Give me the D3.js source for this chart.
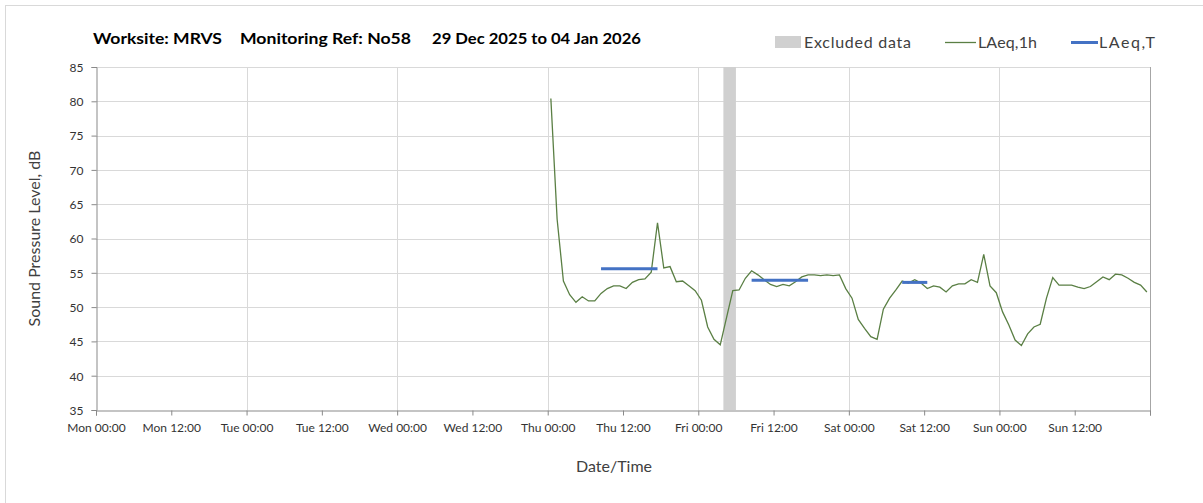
<!DOCTYPE html>
<meta charset="utf-8">
<script src="https://d3js.org/d3.v7.min.js"></script>
<style>
  body { margin: 0; background: #fff; }
  text { font-family: Lato, "Open Sans", sans-serif; }
</style>
<div id="chart"></div>
<script>
// x tick labels, one every 12 hours from Mon 00:00
var tickLabels = ["Mon 00:00", "Mon 12:00", "Tue 00:00", "Tue 12:00", "Wed 00:00", "Wed 12:00",
  "Thu 00:00", "Thu 12:00", "Fri 00:00", "Fri 12:00", "Sat 00:00", "Sat 12:00", "Sun 00:00", "Sun 12:00"];
var yTicks = [35, 40, 45, 50, 55, 60, 65, 70, 75, 80, 85];

// LAeq,1h hourly values, first one is Thu 00:00-01:00 (hour 72 from Mon 00:00)
var firstHour = 72;
var laeq1h = [80.4, 62.8, 53.8, 51.8, 50.7, 51.5, 50.9, 50.9, 52.0, 52.7, 53.1, 53.1,
  52.7, 53.6, 54.0, 54.1, 55.1, 62.3, 55.7, 55.9, 53.7, 53.8, 53.1, 52.4,
  51.0, 47.1, 45.3, 44.5, null, 52.4, 52.5, 54.2, 55.3, 54.7, 54.0, 53.3,
  53.0, 53.3, 53.1, 53.7, 54.4, 54.7, 54.7, 54.6, 54.7, 54.6, 54.7, 52.7,
  51.3, 48.2, 46.9, 45.7, 45.3, 49.7, 51.3, 52.5, 53.8, 53.5, 54.0, 53.5,
  52.7, 53.1, 52.9, 52.2, 53.1, 53.4, 53.4, 54.0, 53.6, 57.7, 53.1, 52.1,
  49.3, 47.4, 45.2, 44.4, 46.1, 47.1, 47.5, 51.3, 54.3, 53.2, 53.2, 53.2,
  52.9, 52.7, 53.0, 53.7, 54.4, 54.0, 54.8, 54.7, 54.2, 53.6, 53.2, 52.2];

// LAeq,T periods (hours from Mon 00:00)
var laeqTStart = [80, 104, 128];
var laeqTEnd = [90, 114, 133];
var laeqTValue = [55.6, 53.9, 53.6];

// excluded data period (hours from Mon 00:00)
var excludedStart = [100];
var excludedEnd = [102];

var titleParts = ["Worksite: MRVS", "Monitoring Ref: No58", "29 Dec 2025 to 04 Jan 2026"];

var W = 1203, H = 503;
var margin = {top: 67, right: 53, bottom: 93, left: 96};

var svg = d3.select("#chart").append("svg")
  .attr("width", W)
  .attr("height", H);

// outer chart border
svg.append("rect")
  .attr("x", 5.5).attr("y", 5.5)
  .attr("width", 1220).attr("height", 520)
  .attr("fill", "none")
  .attr("stroke", "#d9d9d9");

var x = d3.scaleLinear().domain([0, 168]).range([margin.left, W - margin.right]);
var y = d3.scaleLinear().domain([35, 85]).range([H - margin.bottom, margin.top]);

var g = svg.append("g");

// horizontal gridlines
g.selectAll(".hgrid")
  .data(yTicks.slice(1))
  .enter().append("line")
    .attr("x1", x(0)).attr("x2", x(168))
    .attr("y1", function(d) { return Math.round(y(d)) + 0.5; })
    .attr("y2", function(d) { return Math.round(y(d)) + 0.5; })
    .style("stroke", "#d9d9d9");

// vertical gridlines at each day
g.selectAll(".vgrid")
  .data(d3.range(24, 168, 24))
  .enter().append("line")
    .attr("x1", function(d) { return Math.round(x(d)) + 0.5; })
    .attr("x2", function(d) { return Math.round(x(d)) + 0.5; })
    .attr("y1", y(85)).attr("y2", y(35))
    .style("stroke", "#d9d9d9");

// excluded data band
g.selectAll(".excl")
  .data(excludedStart)
  .enter().append("rect")
    .attr("x", function(d) { return x(d); })
    .attr("width", function(d, i) { return x(excludedEnd[i]) - x(d); })
    .attr("y", y(85))
    .attr("height", y(35) - y(85))
    .style("fill", "#d0d0d0");

// right border line
g.append("line")
  .attr("x1", Math.round(x(168)) + 0.5).attr("x2", Math.round(x(168)) + 0.5)
  .attr("y1", y(85)).attr("y2", y(35) + 5)
  .style("stroke", "#a6a6a6");

// y axis
var yAxis = g.append("g")
  .attr("transform", "translate(" + (Math.round(x(0)) + 0.5) + ",0)")
  .call(d3.axisLeft(y).tickValues(yTicks).tickSize(5).tickPadding(8));

// x axis
var xAxis = g.append("g")
  .attr("transform", "translate(0," + (Math.round(y(35)) + 0.5) + ")")
  .call(d3.axisBottom(x)
    .tickValues(d3.range(0, 169, 12))
    .tickSize(5).tickPadding(8)
    .tickFormat(function(d, i) { return tickLabels[i] || ""; }));

[yAxis, xAxis].forEach(function(a) {
  a.select(".domain").style("stroke", "#898989");
  a.selectAll(".tick line").style("stroke", "#898989");
  a.selectAll(".tick text")
    .style("font-size", "12px")
    .style("fill", "#333")
    .style("font-family", "Lato, sans-serif");
});
yAxis.selectAll(".tick text").attr("dy", "0.36em");

// LAeq,1h line (excluded hour skipped, line joins across)
var pts = laeq1h.map(function(v, i) { return {h: firstHour + i + 0.5, v: v}; })
  .filter(function(d) { return d.v !== null; });

var line = d3.line()
  .x(function(d) { return x(d.h); })
  .y(function(d) { return y(d.v); });

g.append("path")
  .datum(pts)
  .attr("d", line)
  .style("fill", "none")
  .style("stroke", "#5a7f44")
  .style("stroke-width", 1.3);

// LAeq,T lines
g.selectAll(".laeqT")
  .data(laeqTValue)
  .enter().append("line")
    .attr("x1", function(d, i) { return x(laeqTStart[i] + 0.5); })
    .attr("x2", function(d, i) { return x(laeqTEnd[i] - 0.5); })
    .attr("y1", function(d) { return y(d); })
    .attr("y2", function(d) { return y(d); })
    .style("stroke", "#4472c4")
    .style("stroke-width", 3);

// title, three pieces spaced like the original
var titleX = [93, 240, 432];
var titleW = [129, 171, 209];
svg.selectAll(".title")
  .data(titleParts)
  .enter().append("text")
    .attr("x", function(d, i) { return titleX[i]; })
    .attr("y", 44)
    .attr("textLength", function(d, i) { return titleW[i]; })
    .attr("lengthAdjust", "spacingAndGlyphs")
    .style("font-size", "16px")
    .style("font-weight", "bold")
    .style("fill", "#000")
    .text(function(d) { return d; });

// legend
var leg = svg.append("g").style("font-size", "16px").style("fill", "#404040");
leg.append("rect").attr("x", 775).attr("y", 36).attr("width", 26).attr("height", 12).style("fill", "#d0d0d0");
leg.append("text").attr("x", 804).attr("y", 48).attr("textLength", 107).text("Excluded data");
leg.append("line").attr("x1", 945).attr("x2", 976).attr("y1", 42.5).attr("y2", 42.5)
  .style("stroke", "#5a7f44").style("stroke-width", 1.3);
leg.append("text").attr("x", 978).attr("y", 48).attr("textLength", 59).text("LAeq,1h");
leg.append("line").attr("x1", 1071).attr("x2", 1098).attr("y1", 42.5).attr("y2", 42.5)
  .style("stroke", "#4472c4").style("stroke-width", 3);
leg.append("text").attr("x", 1099).attr("y", 48).attr("textLength", 56).text("LAeq,T");

// axis titles
svg.append("text")
  .attr("transform", "translate(40," + ((y(35) + y(85)) / 2) + ") rotate(-90)")
  .attr("text-anchor", "middle")
  .style("font-size", "16px")
  .style("fill", "#404040")
  .text("Sound Pressure Level, dB");

svg.append("text")
  .attr("x", 614).attr("y", 472)
  .attr("text-anchor", "middle")
  .style("font-size", "16px")
  .style("fill", "#404040")
  .text("Date/Time");
</script>
